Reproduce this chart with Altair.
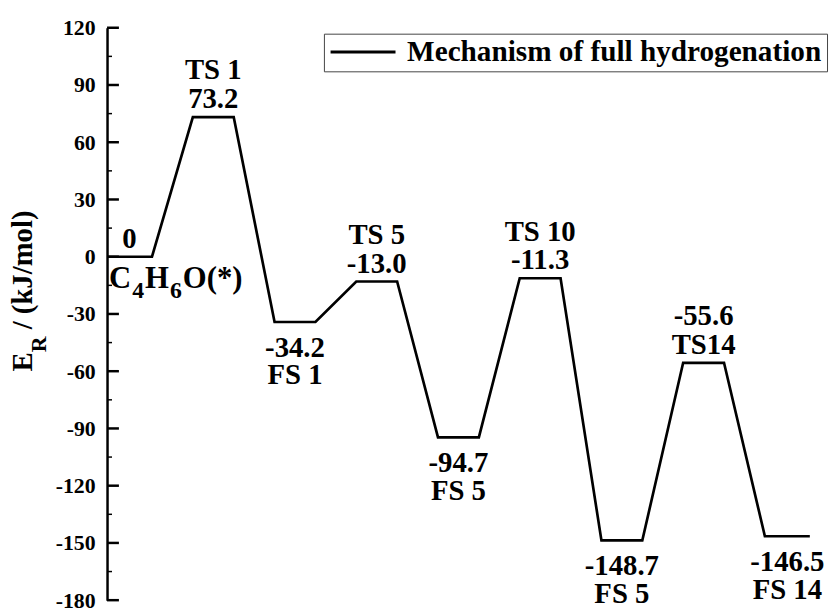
import altair as alt
import pandas as pd

# ---------------- data ----------------
series_name = "Mechanism of full hydrogenation"
energies = [0.0, 73.2, -34.2, -13.0, -94.7, -11.3, -148.7, -55.6, -146.5]
value_texts = ["0", "73.2", "-34.2", "-13.0", "-94.7", "-11.3", "-148.7", "-55.6", "-146.5"]
level_names = ["", "TS 1", "FS 1", "TS 5", "FS 5", "TS 10", "FS 5", "TS14", "FS 14"]
level_start = [0.0, 2.1, 4.1, 6.1, 8.1, 10.1, 12.1, 14.1, 16.1]
level_end = [1.1, 3.1, 5.1, 7.1, 9.1, 11.1, 13.1, 15.1, 17.2]
value_slot = ["a1", "a1", "b1", "a1", "b1", "a1", "b1", "a2", "b1"]
name_slot = ["", "a2", "b2", "a2", "b2", "a2", "b2", "a1", "b2"]
start_pieces = ["C", "4", "H", "6", "O(*)"]
start_sub = [False, True, False, True, False]
y_ticks = [-180, -150, -120, -90, -60, -30, 0, 30, 60, 90, 120]
y_minor = [-165, -135, -105, -75, -45, -15, 15, 45, 75, 105]

FONT = "Liberation Serif"
W, H = 722, 578
LBL = 29

# path of the energy profile
pts = []
k = 0
for s, e, en in zip(level_start, level_end, energies):
    pts.append({"x": s, "E": en, "o": k, "series": series_name}); k += 1
    pts.append({"x": e, "E": en, "o": k, "series": series_name}); k += 1
path_df = pd.DataFrame(pts)

lab_rows = []
for s, e, en, vt, nm, vs, ns in zip(level_start, level_end, energies, value_texts,
                                    level_names, value_slot, name_slot):
    mid = (s + e) / 2
    lab_rows.append({"x": mid, "E": en, "t": vt, "slot": vs})
    if nm:
        lab_rows.append({"x": mid, "E": en, "t": nm, "slot": ns})
lab_df = pd.DataFrame(lab_rows)

xs = alt.Scale(domain=[0, 17.5], nice=False, zero=False)
ys = alt.Scale(domain=[-180, 120], nice=False, zero=False)

line = alt.Chart(path_df).mark_line(strokeWidth=2.7, strokeJoin="miter").encode(
    x=alt.X("x:Q", scale=xs, axis=None),
    y=alt.Y("E:Q", scale=ys, axis=alt.Axis(
        values=y_ticks, tickSize=0, labelPadding=12, title=None, grid=False,
        labelExpr="'' + datum.value",
        domainColor="black", domainWidth=2.5, labelFontSize=22,
        labelFontWeight="bold", labelColor="black")),
    order="o:Q",
    color=alt.Color("series:N", scale=alt.Scale(domain=[series_name], range=["black"]),
                    legend=alt.Legend(
                        title=None, orient="none", legendX=219, legendY=6,
                        strokeColor="#444", fillColor="white", padding=5,
                        symbolType="stroke", symbolSize=4300, symbolStrokeWidth=3,
                        symbolStrokeColor="black", clipHeight=27,
                        labelFontSize=29.5, labelFontWeight="bold",
                        labelColor="black", labelOffset=10, labelLimit=0)),
)

major = alt.Chart(pd.DataFrame({"v": y_ticks})).mark_rule(color="black", strokeWidth=2.5).encode(
    y=alt.Y("v:Q", scale=ys), x=alt.value(0), x2=alt.value(12))
minor = alt.Chart(pd.DataFrame({"v": y_minor})).mark_rule(color="black", strokeWidth=1.5).encode(
    y=alt.Y("v:Q", scale=ys), x=alt.value(0), x2=alt.value(5))

slot_dy = {"a1": -9, "a2": -38, "b1": 35, "b2": 63}
label_layers = []
for slot, dy in slot_dy.items():
    label_layers.append(
        alt.Chart(lab_df).transform_filter(alt.datum.slot == slot).mark_text(
            fontSize=LBL, fontWeight="bold", color="black",
            align="center", baseline="alphabetic", dy=dy).encode(
            x=alt.X("x:Q", scale=xs), y=alt.Y("E:Q", scale=ys), text="t:N"))

# initial species label with subscripts
start_df = pd.DataFrame({"x": [level_start[0]], "E": [energies[0]]})
dx = 2
widths = {"C": 0.722, "H": 0.778, "4": 0.5, "6": 0.5}
for piece, sub in zip(start_pieces, start_sub):
    fs = 24 if sub else 31
    label_layers.append(
        alt.Chart(start_df).mark_text(
            fontSize=fs, fontWeight="bold", color="black",
            align="left", baseline="alphabetic", dx=dx, dy=42 if sub else 32,
            text=piece).encode(x=alt.X("x:Q", scale=xs), y=alt.Y("E:Q", scale=ys)))
    dx += widths.get(piece, 2.0) * fs + 1

# y-axis title E_R / (kJ/mol)
one = pd.DataFrame({"a": [0]})
tfs, sfs = 29, 22
bx = -76
title_layers = [
    alt.Chart(one).mark_text(text="E", angle=270, align="left", baseline="alphabetic",
                             fontSize=tfs, fontWeight="bold", color="black").encode(
        x=alt.value(bx), y=alt.value(347)),
    alt.Chart(one).mark_text(text="R", angle=270, align="left", baseline="alphabetic",
                             fontSize=sfs, fontWeight="bold", color="black").encode(
        x=alt.value(bx + 14), y=alt.value(347 - 0.667 * tfs)),
    alt.Chart(one).mark_text(text="/ (kJ/mol)", angle=270, align="left", baseline="alphabetic",
                             fontSize=tfs, fontWeight="bold", color="black").encode(
        x=alt.value(bx), y=alt.value(347 - 0.667 * tfs - 0.722 * sfs - 0.25 * tfs)),
]

chart = alt.layer(line, major, minor, *label_layers, *title_layers).properties(
    width=W, height=H,
    autosize=alt.AutoSizeParams(type="none"),
    padding={"left": 100, "top": 17, "right": 8, "bottom": 9},
).configure(font=FONT).configure_view(stroke=None)

chart.save("out.html", embed_options={"renderer": "svg", "actions": False})
